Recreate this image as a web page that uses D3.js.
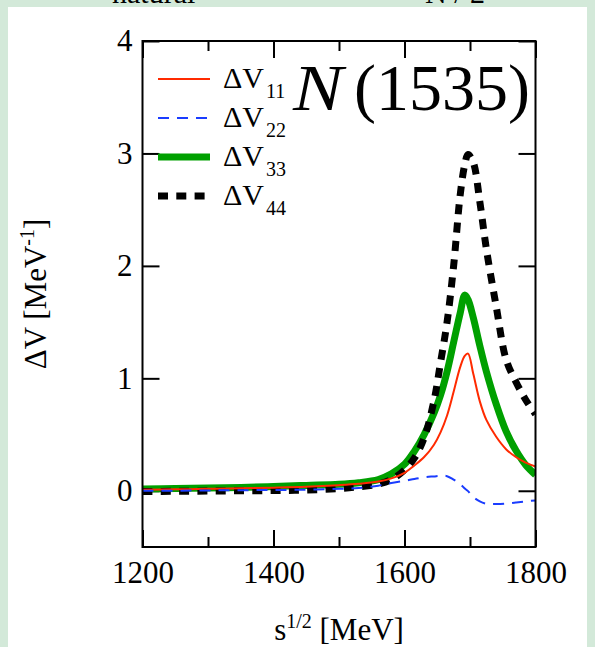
<!DOCTYPE html>
<html>
<head>
<meta charset="utf-8">
<script src="https://cdn.jsdelivr.net/npm/d3@7"></script>
<style>
  body { margin: 0; background: #d3e9d9; }
  svg { display: block; font-family: "Liberation Serif", "Times New Roman", serif; }
</style>
</head>
<body>
<div id="container"></div>
<script>
// sqrt(s) grid in MeV
const energy = [1200, 1250, 1300, 1350, 1400, 1450, 1500, 1530, 1560, 1580, 1600, 1615, 1630, 1645, 1655, 1665, 1675, 1685, 1692, 1697, 1705, 1715, 1725, 1740, 1755, 1770, 1785, 1800];
const dV11 = [0.010, 0.013, 0.017, 0.022, 0.028, 0.036, 0.050, 0.062, 0.082, 0.110, 0.160, 0.225, 0.300, 0.410, 0.520, 0.670, 0.880, 1.100, 1.200, 1.220, 1.040, 0.795, 0.630, 0.480, 0.370, 0.300, 0.250, 0.216];
const dV22 = [0.000, 0.001, 0.003, 0.005, 0.007, 0.010, 0.017, 0.025, 0.045, 0.070, 0.088, 0.105, 0.120, 0.128, 0.133, 0.130, 0.100, 0.060, 0.020, -0.003, -0.055, -0.095, -0.115, -0.118, -0.115, -0.104, -0.094, -0.086];
const dV33 = [0.015, 0.020, 0.025, 0.030, 0.038, 0.048, 0.058, 0.072, 0.100, 0.150, 0.235, 0.350, 0.500, 0.690, 0.850, 1.060, 1.320, 1.580, 1.740, 1.700, 1.540, 1.290, 1.060, 0.770, 0.530, 0.360, 0.230, 0.142];
const dV44 = [-0.006, -0.005, -0.003, 0.000, 0.002, 0.006, 0.020, 0.035, 0.060, 0.100, 0.185, 0.290, 0.470, 0.800, 1.140, 1.500, 2.000, 2.630, 2.900, 2.990, 2.920, 2.570, 2.150, 1.640, 1.170, 0.970, 0.810, 0.680];

const xMajor = [1200, 1400, 1600, 1800];
const xMinor = [1300, 1500, 1700];
const yTicks = [0, 1, 2, 3, 4];
const legendNames = ["11", "22", "33", "44"];

const width = 595, height = 647;
const plotL = 142.5, plotR = 535.5, plotT = 41, plotB = 547;
const fontSize = 31;

const svg = d3.select("#container").append("svg")
  .attr("width", width).attr("height", height);

// white page on the green backdrop
svg.append("rect").attr("x", 8).attr("y", 7).attr("width", 579).attr("height", height - 7).attr("fill", "white");

// header text, cut off at the top edge as in the source
svg.append("text").attr("x", 112).attr("y", 3).attr("font-size", 30).text("natural");
svg.append("text").attr("x", 425).attr("y", 3).attr("font-size", 30).text("N / 2");

const x = d3.scaleLinear().domain([1200, 1800]).range([plotL, plotR]);
const y = d3.scaleLinear().domain([-0.5, 4]).range([plotB, plotT]);

svg.append("defs").append("clipPath").attr("id", "plotclip")
  .append("rect").attr("x", plotL).attr("y", plotT).attr("width", plotR - plotL).attr("height", plotB - plotT);

// axes: ticks all point inward
function styleAxis(g) {
  g.select(".domain").remove();
  g.selectAll("line").attr("stroke", "black").attr("stroke-width", 2);
  g.selectAll("text").attr("font-size", fontSize).attr("font-family", "Liberation Serif, serif").attr("fill", "black");
}

svg.append("g").attr("transform", `translate(0,${plotB})`)
  .call(d3.axisBottom(x).tickValues(xMajor).tickSizeInner(-17).tickSizeOuter(0).tickPadding(14).tickFormat(d3.format("d")))
  .call(styleAxis);
svg.append("g").attr("transform", `translate(0,${plotB})`)
  .call(d3.axisBottom(x).tickValues(xMinor).tickSizeInner(-10).tickSizeOuter(0).tickFormat(""))
  .call(styleAxis);
svg.append("g").attr("transform", `translate(0,${plotT})`)
  .call(d3.axisTop(x).tickValues(xMajor).tickSizeInner(-17).tickSizeOuter(0).tickFormat(""))
  .call(styleAxis);
svg.append("g").attr("transform", `translate(0,${plotT})`)
  .call(d3.axisTop(x).tickValues(xMinor).tickSizeInner(-10).tickSizeOuter(0).tickFormat(""))
  .call(styleAxis);
svg.append("g").attr("transform", `translate(${plotL},0)`)
  .call(d3.axisLeft(y).tickValues(yTicks).tickSizeInner(-17).tickSizeOuter(0).tickPadding(10).tickFormat(d3.format("d")))
  .call(styleAxis);
svg.append("g").attr("transform", `translate(${plotR},0)`)
  .call(d3.axisRight(y).tickValues(yTicks).tickSizeInner(-17).tickSizeOuter(0).tickFormat(""))
  .call(styleAxis);

// curves
const series = [
  { name: "33", values: dV33, color: "#00a000", w: 7, dash: null },
  { name: "44", values: dV44, color: "black", w: 7, dash: "10,8.3" },
  { name: "11", values: dV11, color: "#ff2a00", w: 2, dash: null },
  { name: "22", values: dV22, color: "#1a3cff", w: 2, dash: "11,8" }
];

const line = d3.line()
  .x((d, i) => x(energy[i]))
  .y(d => y(d))
  .curve(d3.curveCatmullRom.alpha(0.5));

svg.append("g").attr("clip-path", "url(#plotclip)")
  .selectAll("path").data(series).enter().append("path")
  .attr("d", d => line(d.values))
  .attr("fill", "none")
  .attr("stroke", d => d.color)
  .attr("stroke-width", d => d.w)
  .attr("stroke-dasharray", d => d.dash);

// frame
svg.append("rect").attr("x", plotL).attr("y", plotT).attr("width", plotR - plotL).attr("height", plotB - plotT)
  .attr("fill", "none").attr("stroke", "black").attr("stroke-width", 2);

// legend
const legend = svg.append("g");
legendNames.forEach((n, i) => {
  const s = series.find(d => d.name === n);
  const ly = 79 + i * 39;
  legend.append("line").attr("x1", 158).attr("x2", 210).attr("y1", ly).attr("y2", ly)
    .attr("stroke", s.color).attr("stroke-width", s.w).attr("stroke-dasharray", s.dash);
  const t = legend.append("text").attr("x", 223).attr("y", ly + 9).attr("font-size", 30);
  t.append("tspan").text("ΔV");
  t.append("tspan").attr("font-size", 20).attr("dx", 2).attr("dy", 10).text(n);
});

// particle label
svg.append("text").attr("x", 293).attr("y", 110).attr("font-size", 66).attr("font-style", "italic")
  .attr("textLength", 50).attr("lengthAdjust", "spacingAndGlyphs").text("N");
svg.append("text").attr("x", 354).attr("y", 110).attr("font-size", 66).text("(1535)");

// axis titles
const yl = svg.append("text").attr("transform", `translate(46,${(plotT + plotB) / 2}) rotate(-90)`)
  .attr("text-anchor", "middle").attr("font-size", fontSize);
yl.append("tspan").text("ΔV [MeV");
yl.append("tspan").attr("font-size", 20).attr("dy", -12).text("-1");
yl.append("tspan").attr("dy", 12).text("]");

const xl = svg.append("text").attr("x", (plotL + plotR) / 2).attr("y", 640)
  .attr("text-anchor", "middle").attr("font-size", fontSize);
xl.append("tspan").text("s");
xl.append("tspan").attr("font-size", 20).attr("dy", -12).text("1/2");
xl.append("tspan").attr("dy", 12).text(" [MeV]");
</script>
</body>
</html>
